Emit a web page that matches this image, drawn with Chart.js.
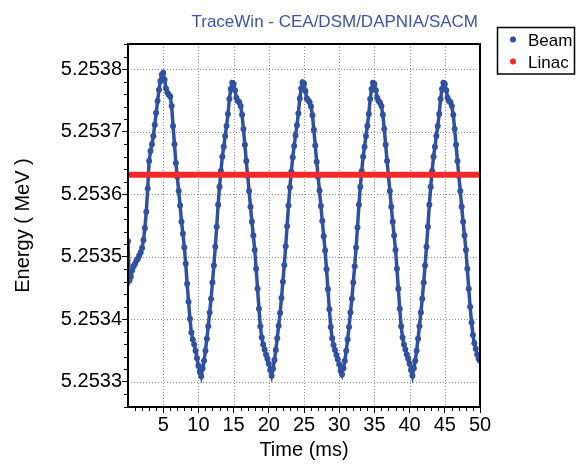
<!DOCTYPE html>
<html>
<head>
<meta charset="utf-8">
<script src="https://cdn.jsdelivr.net/npm/chart.js@4.4.1/dist/chart.umd.min.js"></script>
<style>
html,body{margin:0;padding:0;background:#ffffff;}
canvas{display:block;}
</style>
</head>
<body>
<canvas id="c" width="576" height="464"></canvas>
<script>
const titleText = 'TraceWin - CEA/DSM/DAPNIA/SACM';
const seriesNames = ['Beam', 'Linac'];
const xAxisTitle = 'Time (ms)';
const yAxisTitle = 'Energy ( MeV )';
const xTickValues = [5, 10, 15, 20, 25, 30, 35, 40, 45, 50];
const yTickValues = [5.2533, 5.2534, 5.2535, 5.2536, 5.2537, 5.2538];

const timeMs = [
0,0.2,0.4,0.6,0.8,1,1.2,1.4,1.6,1.8,
2,2.2,2.4,2.6,2.8,3,3.2,3.4,3.6,3.8,
4,4.2,4.4,4.6,4.8,5,5.2,5.4,5.6,5.8,
6,6.2,6.4,6.6,6.8,7,7.2,7.4,7.6,7.8,
8,8.2,8.4,8.6,8.8,9,9.2,9.4,9.6,9.8,
10,10.2,10.4,10.6,10.8,11,11.2,11.4,11.6,11.8,
12,12.2,12.4,12.6,12.8,13,13.2,13.4,13.6,13.8,
14,14.2,14.4,14.6,14.8,15,15.2,15.4,15.6,15.8,
16,16.2,16.4,16.6,16.8,17,17.2,17.4,17.6,17.8,
18,18.2,18.4,18.6,18.8,19,19.2,19.4,19.6,19.8,
20,20.2,20.4,20.6,20.8,21,21.2,21.4,21.6,21.8,
22,22.2,22.4,22.6,22.8,23,23.2,23.4,23.6,23.8,
24,24.2,24.4,24.6,24.8,25,25.2,25.4,25.6,25.8,
26,26.2,26.4,26.6,26.8,27,27.2,27.4,27.6,27.8,
28,28.2,28.4,28.6,28.8,29,29.2,29.4,29.6,29.8,
30,30.2,30.4,30.6,30.8,31,31.2,31.4,31.6,31.8,
32,32.2,32.4,32.6,32.8,33,33.2,33.4,33.6,33.8,
34,34.2,34.4,34.6,34.8,35,35.2,35.4,35.6,35.8,
36,36.2,36.4,36.6,36.8,37,37.2,37.4,37.6,37.8,
38,38.2,38.4,38.6,38.8,39,39.2,39.4,39.6,39.8,
40,40.2,40.4,40.6,40.8,41,41.2,41.4,41.6,41.8,
42,42.2,42.4,42.6,42.8,43,43.2,43.4,43.6,43.8,
44,44.2,44.4,44.6,44.8,45,45.2,45.4,45.6,45.8,
46,46.2,46.4,46.6,46.8,47,47.2,47.4,47.6,47.8,
48,48.2,48.4,48.6,48.8,49,49.2,49.4,49.6,49.8,
50
];

const beamEnergy = [
// 0 - 10.2 ms
5.253525,5.253462,5.253468,5.253478,5.253485,5.253489,5.253494,5.253497,5.253502,5.253507,
5.253514,5.253527,5.253546,5.253572,5.253609,5.253653,5.253669,5.253680,5.253693,5.253711,
5.253730,5.253749,5.253767,5.253781,5.253791,5.253794,5.253783,5.253769,5.253762,5.253759,
5.253756,5.253741,5.253709,5.253680,5.253650,5.253628,5.253605,5.253582,5.253556,5.253537,
5.253515,5.253489,5.253457,5.253428,5.253401,5.253379,5.253368,5.253360,5.253350,5.253338,
5.253326,5.253316,
// 10.4 - 20.2 ms
5.253309,5.253322,5.253334,5.253350,5.253369,5.253389,5.253411,5.253433,5.253459,5.253486,
5.253516,5.253548,5.253583,5.253612,5.253637,5.253660,5.253676,5.253693,5.253709,5.253728,
5.253752,5.253768,5.253778,5.253776,5.253766,5.253754,5.253749,5.253747,5.253741,5.253727,
5.253704,5.253679,5.253653,5.253629,5.253605,5.253580,5.253556,5.253534,5.253511,5.253481,
5.253449,5.253417,5.253389,5.253371,5.253360,5.253352,5.253344,5.253337,5.253329,5.253319,
// 20.4 - 30.2 ms
5.253310,5.253321,5.253335,5.253351,5.253370,5.253390,5.253410,5.253434,5.253460,5.253487,
5.253517,5.253549,5.253582,5.253611,5.253636,5.253659,5.253677,5.253694,5.253710,5.253729,
5.253753,5.253769,5.253779,5.253777,5.253765,5.253753,5.253750,5.253747,5.253740,5.253726,
5.253703,5.253678,5.253652,5.253628,5.253606,5.253581,5.253557,5.253533,5.253510,5.253480,
5.253448,5.253416,5.253388,5.253370,5.253359,5.253351,5.253343,5.253336,5.253328,5.253318,
// 30.4 - 40.2 ms
5.253312,5.253322,5.253334,5.253350,5.253368,5.253388,5.253411,5.253433,5.253459,5.253485,
5.253515,5.253547,5.253583,5.253612,5.253637,5.253660,5.253676,5.253693,5.253709,5.253728,
5.253752,5.253768,5.253778,5.253776,5.253766,5.253754,5.253749,5.253746,5.253741,5.253727,
5.253704,5.253679,5.253653,5.253629,5.253605,5.253580,5.253556,5.253534,5.253511,5.253481,
5.253449,5.253417,5.253389,5.253371,5.253360,5.253352,5.253344,5.253337,5.253329,5.253319,
// 40.4 - 50 ms
5.253310,5.253322,5.253334,5.253350,5.253369,5.253389,5.253411,5.253433,5.253459,5.253486,
5.253516,5.253548,5.253583,5.253612,5.253637,5.253660,5.253676,5.253693,5.253709,5.253728,
5.253752,5.253768,5.253778,5.253776,5.253766,5.253754,5.253749,5.253747,5.253741,5.253727,
5.253704,5.253679,5.253653,5.253629,5.253605,5.253580,5.253556,5.253534,5.253511,5.253481,
5.253449,5.253420,5.253395,5.253375,5.253362,5.253353,5.253344,5.253337,5.253334
];

const linacTime = [0, 50];
const linacEnergy = [5.253631, 5.253631];

const beamColor = '#3050a0';
const linacColor = '#ee2a2a';

const beamPoints = timeMs.map((t, i) => ({ x: t, y: beamEnergy[i] }));
const linacPoints = linacTime.map((t, i) => ({ x: t, y: linacEnergy[i] }));

const gridPlugin = {
  id: 'dottedGrid',
  beforeDatasetsDraw(chart) {
    const ctx = chart.ctx;
    const a = chart.chartArea;
    const xs = chart.scales.x;
    const ys = chart.scales.y;
    ctx.save();
    ctx.strokeStyle = '#8c8c8c';
    ctx.lineWidth = 1;
    ctx.setLineDash([1, 2]);
    xTickValues.forEach(v => {
      const px = Math.round(xs.getPixelForValue(v)) + 0.5;
      ctx.beginPath(); ctx.moveTo(px, a.top); ctx.lineTo(px, a.bottom); ctx.stroke();
    });
    yTickValues.forEach(v => {
      const py = Math.round(ys.getPixelForValue(v)) + 0.5;
      ctx.beginPath(); ctx.moveTo(a.left, py); ctx.lineTo(a.right, py); ctx.stroke();
    });
    ctx.restore();
  }
};

const decorPlugin = {
  id: 'decor',
  afterDraw(chart) {
    const ctx = chart.ctx;
    const a = chart.chartArea;
    const xs = chart.scales.x;
    const ys = chart.scales.y;
    ctx.save();
    ctx.setLineDash([]);
    ctx.strokeStyle = '#000';
    ctx.lineWidth = 1;
    for (let v = 1; v < 50; v += 1) {
      if (v % 5 === 0) continue;
      const px = Math.round(xs.getPixelForValue(v)) + 0.5;
      ctx.beginPath(); ctx.moveTo(px, a.bottom); ctx.lineTo(px, a.bottom + 4); ctx.stroke();
    }
    for (let i = 0; i <= 29; i++) {
      if (i % 5 === 2) continue;
      const v = 5.25326 + i * 0.00002;
      const py = Math.round(ys.getPixelForValue(v)) + 0.5;
      ctx.beginPath(); ctx.moveTo(a.left - 4, py); ctx.lineTo(a.left, py); ctx.stroke();
    }
    ctx.lineWidth = 2;
    ctx.strokeRect(a.left, a.top, a.right - a.left, a.bottom - a.top);
    ctx.font = '17px "Liberation Sans", Arial, sans-serif';
    ctx.fillStyle = '#3b55a8';
    ctx.textAlign = 'right';
    ctx.textBaseline = 'alphabetic';
    ctx.fillText(titleText, 478, 27);
    ctx.lineWidth = 1.5;
    ctx.strokeStyle = '#000';
    ctx.strokeRect(497.5, 27.5, 77, 46.5);
    ctx.font = '17px "Liberation Sans", Arial, sans-serif';
    ctx.textAlign = 'left';
    const colors = [beamColor, linacColor];
    const ly = [39.5, 61.5];
    for (let i = 0; i < 2; i++) {
      ctx.fillStyle = colors[i];
      ctx.beginPath(); ctx.arc(513, ly[i], 3, 0, Math.PI * 2); ctx.fill();
      ctx.fillStyle = '#000';
      ctx.fillText(seriesNames[i], 528, ly[i] + 6);
    }
    ctx.restore();
  }
};

new Chart(document.getElementById('c'), {
  type: 'line',
  data: {
    datasets: [
      {
        label: seriesNames[0],
        data: beamPoints,
        borderColor: beamColor,
        backgroundColor: beamColor,
        borderWidth: 3.5,
        pointRadius: 3,
        pointBorderWidth: 0,
        pointBackgroundColor: beamColor,
        tension: 0,
        order: 1
      },
      {
        label: seriesNames[1],
        data: linacPoints,
        borderColor: linacColor,
        backgroundColor: linacColor,
        borderWidth: 6,
        pointRadius: 0,
        tension: 0,
        order: 0
      }
    ]
  },
  options: {
    responsive: false,
    animation: false,
    devicePixelRatio: 1,
    layout: { padding: { top: 44, right: 96, left: 0, bottom: 0 } },
    plugins: {
      legend: { display: false },
      title: { display: false },
      tooltip: { enabled: false }
    },
    scales: {
      x: {
        type: 'linear',
        min: 0,
        max: 50,
        afterBuildTicks(scale) { scale.ticks = xTickValues.map(v => ({ value: v })); },
        afterFit(scale) { scale.height = 57; },
        ticks: {
          padding: 0,
          color: '#000',
          font: { family: '"Liberation Sans", Arial, sans-serif', size: 20 },
          maxRotation: 0,
          autoSkip: false,
          callback: (v) => String(v)
        },
        grid: {
          drawOnChartArea: false,
          tickLength: 6,
          tickColor: '#000',
          tickWidth: 1
        },
        border: { display: false },
        title: {
          display: true,
          text: xAxisTitle,
          color: '#000',
          font: { family: '"Liberation Sans", Arial, sans-serif', size: 20 },
          padding: { top: 0, bottom: 2 }
        }
      },
      y: {
        type: 'linear',
        min: 5.25326,
        max: 5.25384,
        afterBuildTicks(scale) { scale.ticks = yTickValues.map(v => ({ value: v })); },
        afterFit(scale) { scale.width = 128; },
        ticks: {
          padding: 0,
          color: '#000',
          font: { family: '"Liberation Sans", Arial, sans-serif', size: 20 },
          autoSkip: false,
          callback: (v) => Number(v).toFixed(4)
        },
        grid: {
          drawOnChartArea: false,
          tickLength: 6,
          tickColor: '#000',
          tickWidth: 1
        },
        border: { display: false },
        title: {
          display: true,
          text: yAxisTitle,
          color: '#000',
          font: { family: '"Liberation Sans", Arial, sans-serif', size: 20 },
          padding: { top: 11, bottom: 0 }
        }
      }
    }
  },
  plugins: [gridPlugin, decorPlugin]
});
</script>
</body>
</html>
